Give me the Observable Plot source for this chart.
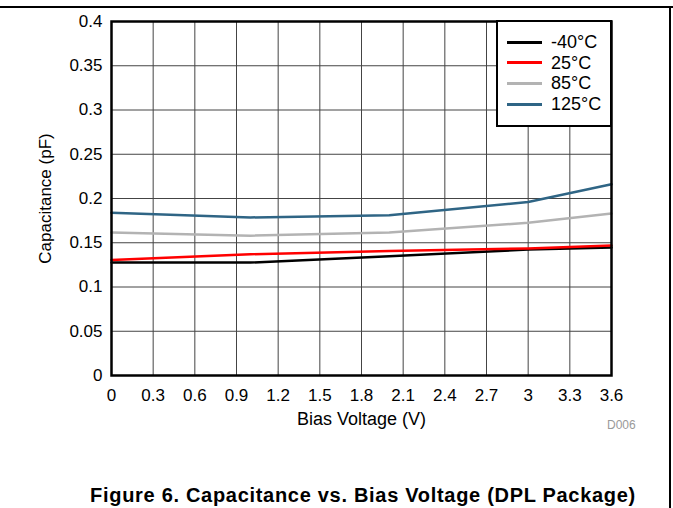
<!DOCTYPE html>
<html>
<head>
<meta charset="utf-8">
<script src="https://cdn.jsdelivr.net/npm/d3@7"></script>
<script src="https://cdn.jsdelivr.net/npm/@observablehq/plot@0.6"></script>
<style>
  body { margin: 0; background: #fff; font-family: "Liberation Sans", Arial, sans-serif; }
  #wrap { position: relative; width: 673px; height: 508px; overflow: hidden; }
  #topline { position: absolute; left: 0; top: 6px; width: 673px; height: 2px; background: #000; }
  #rightline { position: absolute; left: 669px; top: 6px; width: 2px; height: 502px; background: #000; }
  #chart { position: absolute; left: 0; top: 0; }
  #legend { position: absolute; left: 496px; top: 20px; width: 112px; height: 103px; background: #fff; border: 2px solid #000; }
  .row { position: absolute; left: 0; width: 110px; height: 20px; font-size: 18px; line-height: 20px; }
  .sw { position: absolute; left: 9px; top: 8.5px; width: 35px; height: 3px; }
  .lb { position: absolute; left: 53px; top: 0; white-space: nowrap; }
  #title { position: absolute; left: 0; width: 726px; top: 485px; line-height: 20px; text-align: center; font-weight: bold; font-size: 20px; letter-spacing: 0.7px; }
  #code { position: absolute; left: 607px; top: 418px; font-size: 12px; color: #999; }
</style>
</head>
<body>
<div id="wrap">
  <div id="chart"></div>
  <div id="topline"></div>
  <div id="rightline"></div>
  <div id="legend"></div>
  <div id="code">D006</div>
  <div id="title">Figure 6. Capacitance vs. Bias Voltage (DPL Package)</div>
</div>
<script>
const voltage = [0, 1, 2, 3, 3.6];
const seriesNames = ["-40°C", "25°C", "85°C", "125°C"];
const seriesColors = ["#000000", "#ff0000", "#b3b3b3", "#2f6585"];
const capM40 = [0.1276, 0.1276, 0.1348, 0.1423, 0.1446];
const cap25 = [0.1306, 0.1370, 0.1408, 0.1435, 0.1470];
const cap85 = [0.1616, 0.1580, 0.1616, 0.1725, 0.1830];
const cap125 = [0.1840, 0.1786, 0.1810, 0.1960, 0.2160];
const xTicks = [0, 0.3, 0.6, 0.9, 1.2, 1.5, 1.8, 2.1, 2.4, 2.7, 3, 3.3, 3.6];
const yTicks = [0, 0.05, 0.1, 0.15, 0.2, 0.25, 0.3, 0.35, 0.4];

const allSeries = [capM40, cap25, cap85, cap125];
const data = [];
allSeries.forEach((vals, i) => vals.forEach((v, j) => data.push({x: voltage[j], y: v, s: seriesNames[i]})));

const plot = Plot.plot({
  width: 673,
  height: 440,
  marginLeft: 111,
  marginRight: 62,
  marginTop: 21,
  marginBottom: 65,
  style: { fontFamily: "Liberation Sans, Arial, sans-serif", fontSize: "17px", color: "#000", background: "transparent" },
  x: { domain: [0, 3.6], ticks: xTicks, tickFormat: d => String(d), label: null },
  y: { domain: [0, 0.4], ticks: yTicks, tickFormat: d => String(d), label: null },
  color: { domain: seriesNames, range: seriesColors },
  marks: [
    Plot.gridX(xTicks, { stroke: "#444", strokeOpacity: 1, strokeWidth: 1 }),
    Plot.gridY(yTicks, { stroke: "#444", strokeOpacity: 1, strokeWidth: 1 }),
    Plot.line(data, { x: "x", y: "y", z: "s", stroke: "s", strokeWidth: 2.5 }),
    Plot.axisX(xTicks, { tickSize: 0, tickPadding: 13, tickFormat: d => String(d), label: null, fontSize: 17 }),
    Plot.axisY(yTicks, { tickSize: 0, tickPadding: 9, tickFormat: d => String(d), label: null, fontSize: 17 }),
    Plot.text(["Bias Voltage (V)"], { frameAnchor: "bottom", dy: 49, fontSize: 18 }),
    Plot.text(["Capacitance (pF)"], { frameAnchor: "left", dx: -66, rotate: -90, textAnchor: "middle", fontSize: 17 }),
    Plot.frame({ stroke: "#000", strokeWidth: 2.5 })
  ]
});
document.getElementById("chart").appendChild(plot);

const legend = document.getElementById("legend");
const rowTops = [10, 30.7, 51, 72];
seriesNames.forEach((n, i) => {
  const row = document.createElement("div");
  row.className = "row";
  row.style.top = rowTops[i] + "px";
  row.innerHTML = `<div class="sw" style="background:${seriesColors[i]}"></div><div class="lb">${n}</div>`;
  legend.appendChild(row);
});
</script>
</body>
</html>
